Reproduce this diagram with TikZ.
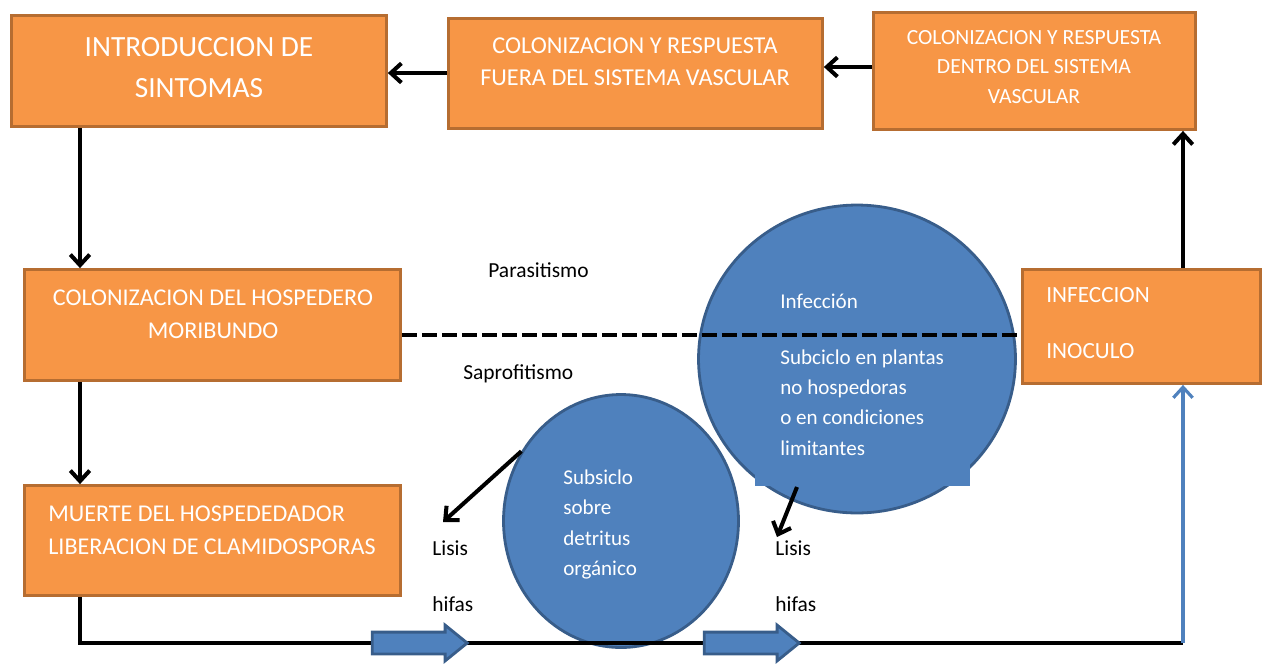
\documentclass[tikz,border=0pt]{standalone}
\usepackage{fontspec}
\setmainfont{Carlito}
\usetikzlibrary{arrows.meta,shapes.geometric,shapes.arrows}
\definecolor{naranja}{HTML}{F79646}
\definecolor{naranjaborde}{HTML}{B66D31}
\definecolor{azul}{HTML}{4F81BD}
\definecolor{azulborde}{HTML}{385D8A}
\tikzset{
  caja/.style={rectangle,draw=naranjaborde,fill=naranja,line width=1.6pt},
  burbuja/.style={ellipse,draw=azulborde,fill=azul,line width=1.6pt},
  flecha/.style={line width=2.3pt,-{Straight Barb[length=6pt,width=11pt]}},
  bloque/.style={single arrow,draw=azulborde,fill=azul,line width=1.6pt,inner xsep=0pt,
    inner ysep=0.19cm,single arrow head extend=0.14cm,single arrow tip angle=78,minimum height=1.9cm}
}

\begin{document}
\begin{tikzpicture}[x=0.02cm,y=-0.02cm]
      \useasboundingbox (0,0) rectangle (1265,664);

      \node[caja,minimum width=7.5cm,minimum height=2.22cm] (intro) at (199,71) {};
      \node[caja,minimum width=7.48cm,minimum height=2.2cm] (fuera) at (635.5,73.5) {};
      \node[caja,minimum width=6.44cm,minimum height=2.34cm] (dentro) at (1034.5,71) {};
      \node[caja,minimum width=7.52cm,minimum height=2.22cm] (hosp) at (212.5,325) {};
      \node[caja,minimum width=7.52cm,minimum height=2.2cm] (muerte) at (212.5,540.5) {};
      \node[caja,minimum width=4.76cm,minimum height=2.28cm] (infec) at (1141.5,326.5) {};

      \node[burbuja,minimum width=6.34cm,minimum height=6.16cm] (plantas) at (857,359) {};
      \fill[azul] (755,430) rectangle (970,486);
      \node[burbuja,minimum width=4.7cm,minimum height=5.06cm] (detritos) at (621,521) {};

      \begin{scope}[white,align=center]
        \node[font=\fontsize{16.7}{23.3}\selectfont] (introt) at (199,67.5) {INTRODUCCION DE\\SINTOMAS};
        \node[font=\fontsize{13.8}{18.2}\selectfont] (fuerat) at (635,62) {COLONIZACION Y RESPUESTA\\FUERA DEL SISTEMA VASCULAR};
        \node[font=\fontsize{12.3}{17}\selectfont] (dentrot) at (1034,67) {COLONIZACION Y RESPUESTA\\DENTRO DEL SISTEMA\\VASCULAR};
        \node[font=\fontsize{13.7}{18.8}\selectfont] (hospt) at (213,314.5) {COLONIZACION DEL HOSPEDERO\\MORIBUNDO};
      \end{scope}

      \begin{scope}[white,align=left,anchor=west,inner sep=0pt]
        \node[font=\fontsize{13.7}{18.8}\selectfont] (muertet) at (48,530.5) {MUERTE DEL HOSPEDEDADOR\\LIBERACION DE CLAMIDOSPORAS};
        \node[font=\fontsize{13.2}{18.8}\selectfont] (infect) at (1046,323) {INFECCION\\[13pt]INOCULO};
        \node[font=\fontsize{12}{17.3}\selectfont] (infeccion) at (780,301) {Infección};
        \node[font=\fontsize{12}{17.3}\selectfont] (subciclo) at (780,402.5) {Subciclo en plantas\\no hospedoras\\o en condiciones\\limitantes};
        \node[font=\fontsize{12}{17.3}\selectfont] (subsiclo) at (563,524.5) {Subsiclo\\sobre\\detritus\\orgánico};
      \end{scope}

      \begin{scope}[anchor=west,inner sep=0pt,font=\fontsize{12.2}{14}\selectfont]
        \node (parasitismo) at (488,270) {Parasitismo};
        \node (saprofitismo) at (463,374) {Saprofitismo};
        \node (lisisA) at (432,548) {Lisis};
        \node (hifasA) at (432,604) {hifas};
        \node (lisisB) at (775,548) {Lisis};
        \node (hifasB) at (775,604) {hifas};
      \end{scope}

      \coordinate (xizq) at (80,0);
      \coordinate (xder) at (1183,0);
      \coordinate (yarriba) at (0,73);
      \coordinate (ydentro) at (0,67);
      \coordinate (nivel) at (0,335);
      \coordinate (esquina) at (1183,643);
      \coordinate (salidaB) at (797,487);
      \coordinate (puntaA) at (443,522);
      \coordinate (puntaB) at (777,537);

      \draw[line width=2.8pt,dash pattern=on 0.3cm off 0.1cm] (hosp.east |- nivel) -- (infec.west |- nivel);

      \draw[flecha] (fuera.west |- yarriba) -- (intro.east |- yarriba);
      \draw[flecha] (dentro.west |- ydentro) -- (fuera.east |- ydentro);
      \draw[flecha] (infec.north -| xder) -- (dentro.south -| xder);
      \draw[flecha] (intro.south -| xizq) -- (hosp.north -| xizq);
      \draw[flecha] (hosp.south -| xizq) -- (muerte.north -| xizq);
      \draw[flecha] (detritos.145) -- (puntaA);
      \draw[flecha] (salidaB) -- (puntaB);

      \draw[line width=2.5pt] (muerte.south -| xizq) |- (esquina);
      \draw[azul,line width=1.8pt,-{Straight Barb[length=6pt,width=11pt]}] (esquina) -- (infec.south -| xder);

      \foreach \x [count=\i] in {413,745}
        \node[bloque] (avance\i) at (\x,643) {};
    \end{tikzpicture}
\end{document}
